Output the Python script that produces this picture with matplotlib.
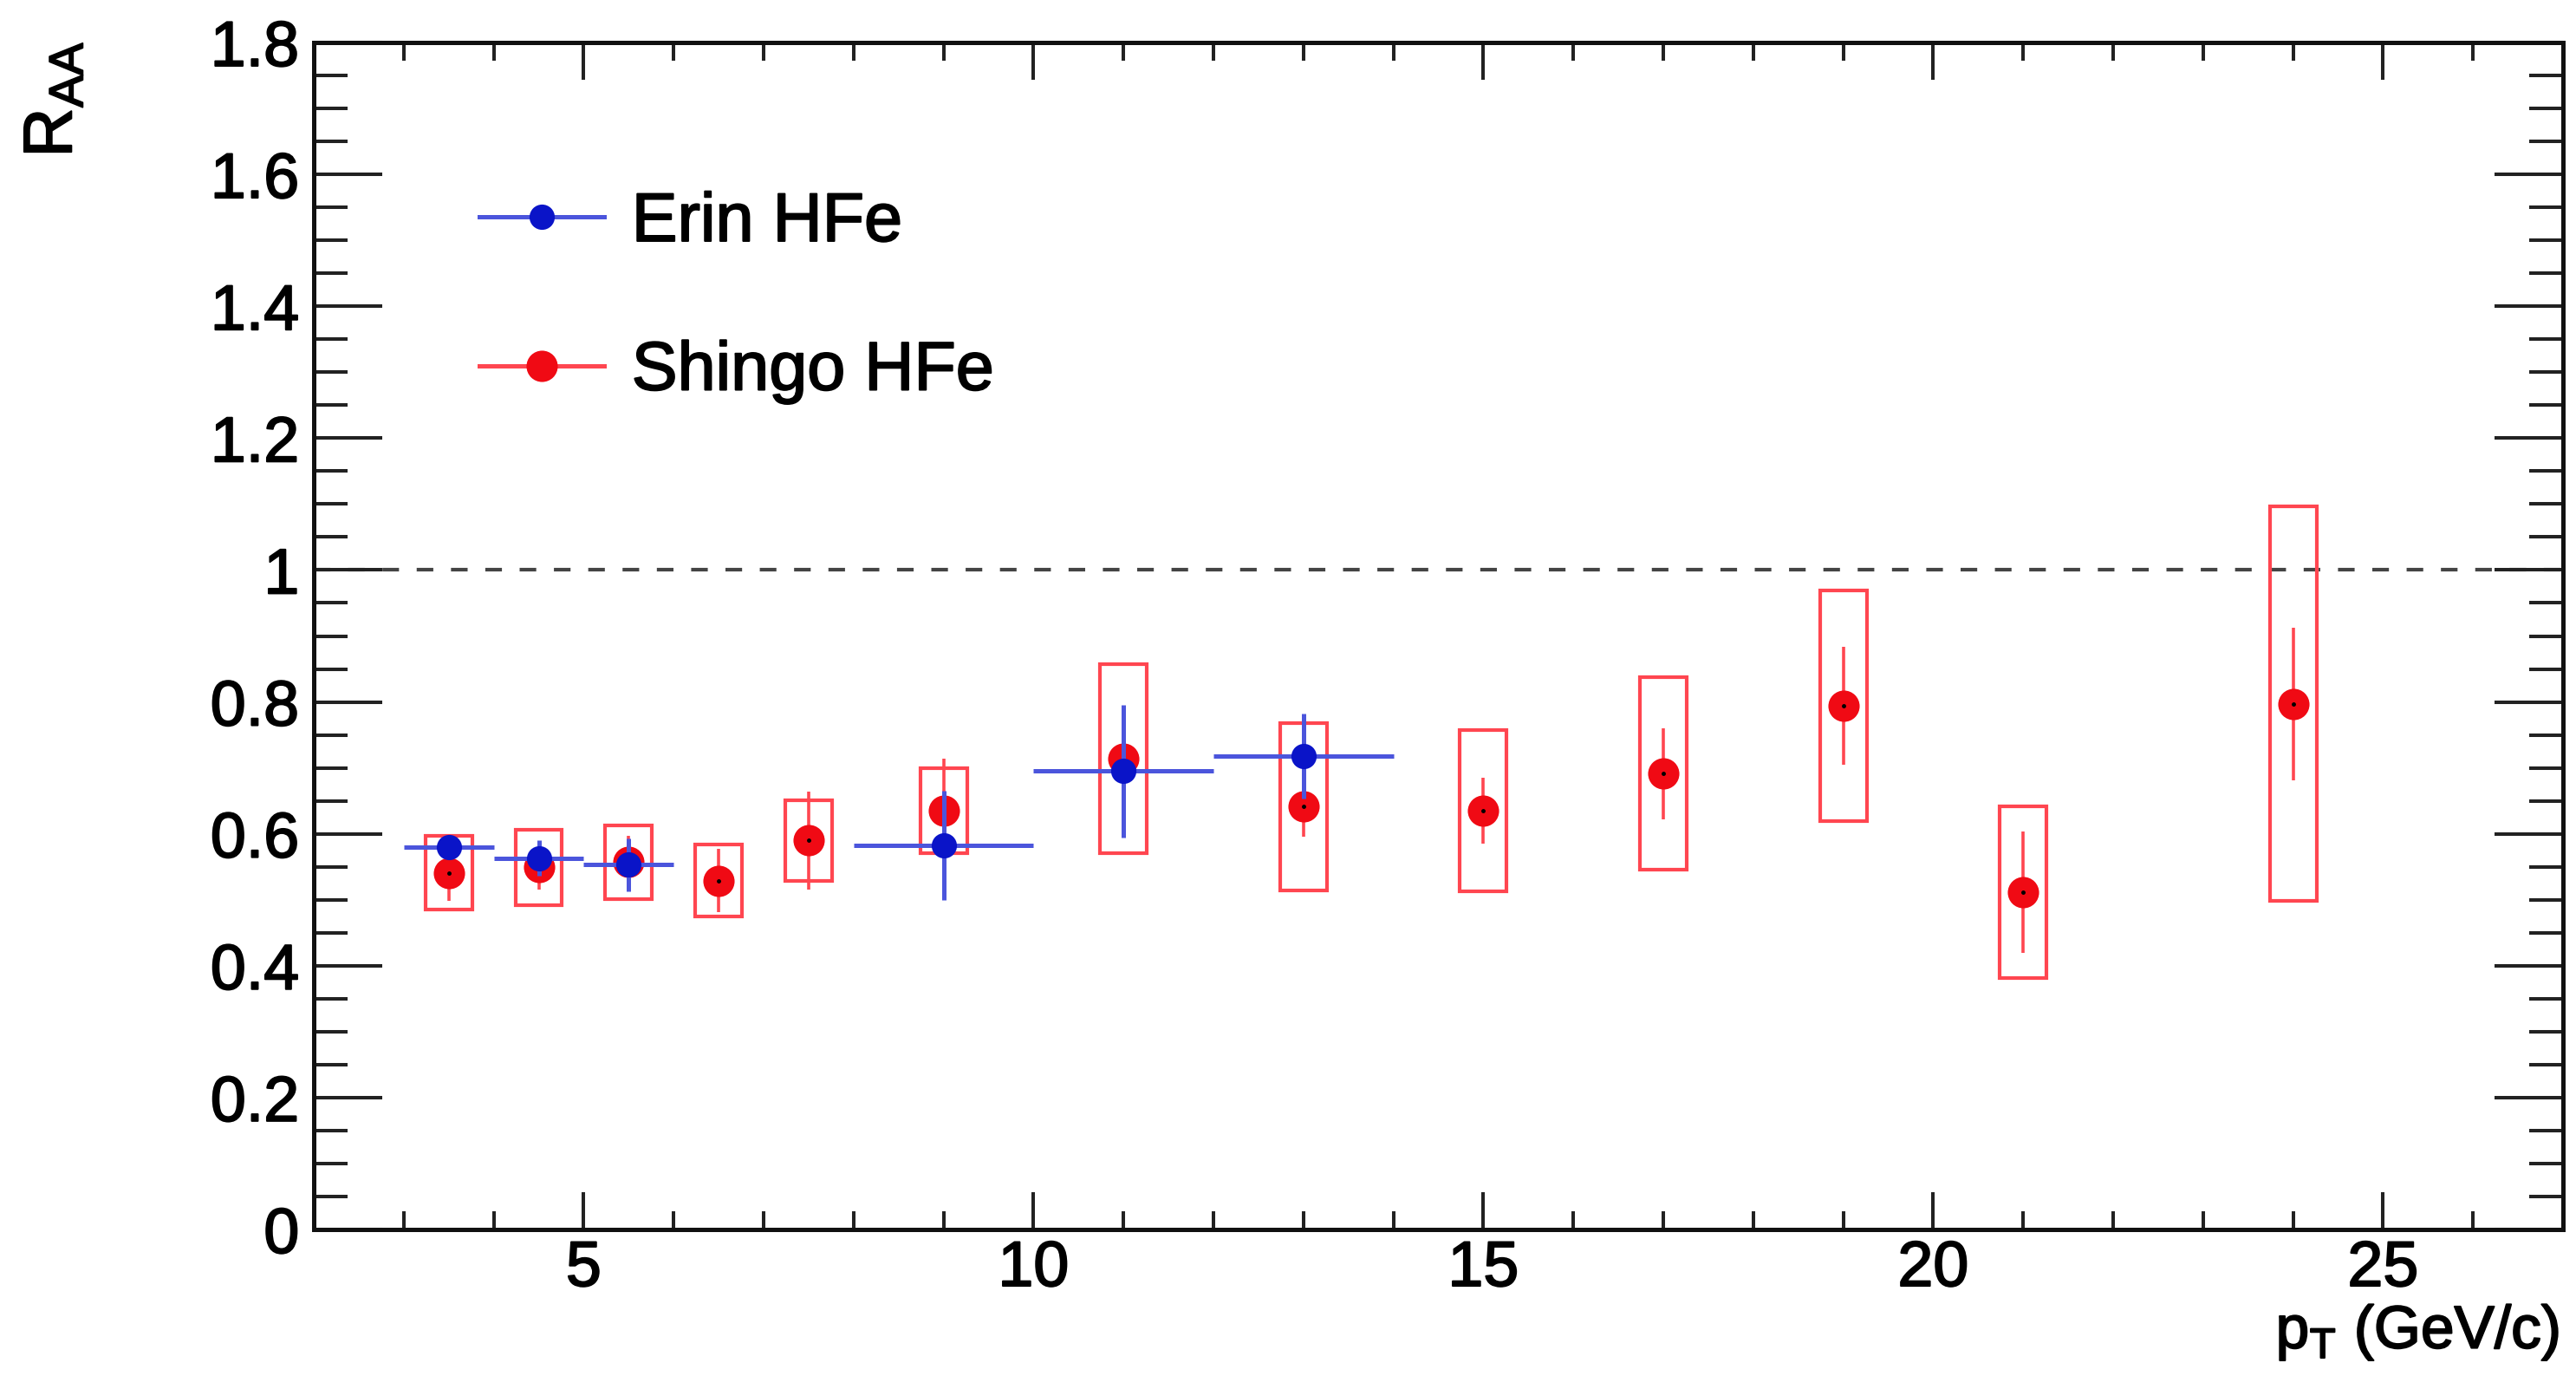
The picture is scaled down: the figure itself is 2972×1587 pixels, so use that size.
import matplotlib
matplotlib.use("Agg")
import matplotlib.pyplot as plt
import matplotlib.patheffects as pe
from matplotlib.patches import Rectangle
from matplotlib.lines import Line2D
from matplotlib.ticker import MultipleLocator, FixedLocator, FixedFormatter

plt.rcParams['font.family'] = ['Liberation Sans', 'DejaVu Sans']
plt.rcParams['mathtext.fontset'] = 'custom'
plt.rcParams['mathtext.rm'] = 'Liberation Sans'

# ---------------- data ----------------
erin_pt = [3.5, 4.5, 5.5, 9.0, 11.0, 13.0]
erin_pt_halfwidth = [0.5, 0.5, 0.5, 1.0, 1.0, 1.0]
erin_raa = [0.580, 0.563, 0.553, 0.582, 0.695, 0.718]
erin_stat = [0.015, 0.027, 0.040, 0.083, 0.101, 0.064]

shingo_pt = [3.5, 4.5, 5.5, 6.5, 7.5, 9.0, 11.0, 13.0, 15.0, 17.0, 19.0, 21.0, 24.0]
shingo_raa = [0.541, 0.549, 0.557, 0.529, 0.590, 0.635, 0.714, 0.641, 0.635, 0.691, 0.794, 0.511, 0.797]
shingo_stat = [0.043, 0.033, 0.040, 0.048, 0.074, 0.079, 0.069, 0.045, 0.050, 0.069, 0.089, 0.092, 0.116]
shingo_sys = [0.056, 0.057, 0.056, 0.055, 0.061, 0.065, 0.143, 0.127, 0.122, 0.146, 0.175, 0.130, 0.299]

series_labels = ["Erin HFe", "Shingo HFe"]
x_ticks = [5, 10, 15, 20, 25]
x_ticklabels = ["5", "10", "15", "20", "25"]
y_ticks = [0, 0.2, 0.4, 0.6, 0.8, 1.0, 1.2, 1.4, 1.6, 1.8]
y_ticklabels = ["0", "0.2", "0.4", "0.6", "0.8", "1", "1.2", "1.4", "1.6", "1.8"]
reference_level = 1.0

# ---------------- style ----------------
blue_marker = '#0a14c8'
blue_line = '#4b55dc'
red_marker = '#f00a14'
red_line = '#ff4650'
box_halfwidth = 0.26
thicken = [pe.withStroke(linewidth=1.4, foreground='black')]

W, H = 2972, 1587
fig = plt.figure(figsize=(W / 100, H / 100), dpi=100)
L, R, B, T = 362, 2957, 1418, 49
ax = fig.add_axes([L / W, 1 - B / H, (R - L) / W, (B - T) / H])

ax.set_xlim(2, 27)
ax.set_ylim(0, 1.8)

# reference line
ax.axhline(reference_level, color='#444444', lw=3.0, linestyle=(0, (4.6, 4.9)), zorder=1)

# systematic boxes (Shingo)
for x, y, s in zip(shingo_pt, shingo_raa, shingo_sys):
    ax.add_patch(Rectangle((x - box_halfwidth, y - s), 2 * box_halfwidth, 2 * s,
                           fill=False, edgecolor=red_line, lw=3.0, zorder=2))

# Shingo points
ax.errorbar(shingo_pt, shingo_raa, yerr=shingo_stat, fmt='o', color=red_marker,
            ecolor=red_line, elinewidth=2.6, capsize=9, capthick=2.6,
            markersize=26, markeredgewidth=0, zorder=3)
ax.plot(shingo_pt, shingo_raa, linestyle='none', marker='o', markersize=2.5,
        color='black', zorder=4)

# Erin points
ax.errorbar(erin_pt, erin_raa, xerr=erin_pt_halfwidth, yerr=erin_stat, fmt='o',
            color=blue_marker, ecolor=blue_line, elinewidth=3.6, capsize=0,
            markersize=21, markeredgewidth=0, zorder=5)

# axes styling
for sp in ax.spines.values():
    sp.set_linewidth(3.6)
    sp.set_color('#111111')

ax.xaxis.set_major_locator(FixedLocator(x_ticks))
ax.xaxis.set_major_formatter(FixedFormatter(x_ticklabels))
ax.xaxis.set_minor_locator(MultipleLocator(1))
ax.yaxis.set_major_locator(FixedLocator(y_ticks))
ax.yaxis.set_major_formatter(FixedFormatter(y_ticklabels))
ax.yaxis.set_minor_locator(MultipleLocator(0.05))

ax.tick_params(axis='both', which='both', direction='in', top=True, right=True,
               color='#222222', labelsize=53)
ax.tick_params(axis='x', which='major', length=31, width=2.9, pad=8)
ax.tick_params(axis='x', which='minor', length=15, width=2.9)
ax.tick_params(axis='y', which='major', length=57, width=2.9, pad=12)
ax.tick_params(axis='y', which='minor', length=28, width=2.9)
for lab in ax.get_xticklabels() + ax.get_yticklabels():
    lab.set_path_effects(thicken)

# axis titles
fig.text(62 / W, 1 - 48 / H, r'R$_{\mathregular{AA}}$', rotation=90, fontsize=57,
         ha='center', va='top', path_effects=thicken)
fig.text(2953 / W, 1 - 1555 / H, r'p$_{\mathregular{T}}$ (GeV/c)', fontsize=50,
         ha='right', va='baseline', path_effects=thicken)

# legend
handles = [
    Line2D([], [], color=blue_line, lw=3.6, marker='o', markersize=21,
           markerfacecolor=blue_marker, markeredgewidth=0),
    Line2D([], [], color=red_line, lw=3.6, marker='o', markersize=26,
           markerfacecolor=red_marker, markeredgewidth=0),
]
leg = fig.legend(handles, series_labels, loc='upper left',
                 bbox_to_anchor=(553 / W, 1 - 220 / H), frameon=False, fontsize=57,
                 handlelength=1.82, handletextpad=0.4, labelspacing=1.22, borderpad=0,
                 borderaxespad=0)
for t in leg.get_texts():
    t.set_path_effects(thicken)

fig.savefig('out.png', dpi=100)
